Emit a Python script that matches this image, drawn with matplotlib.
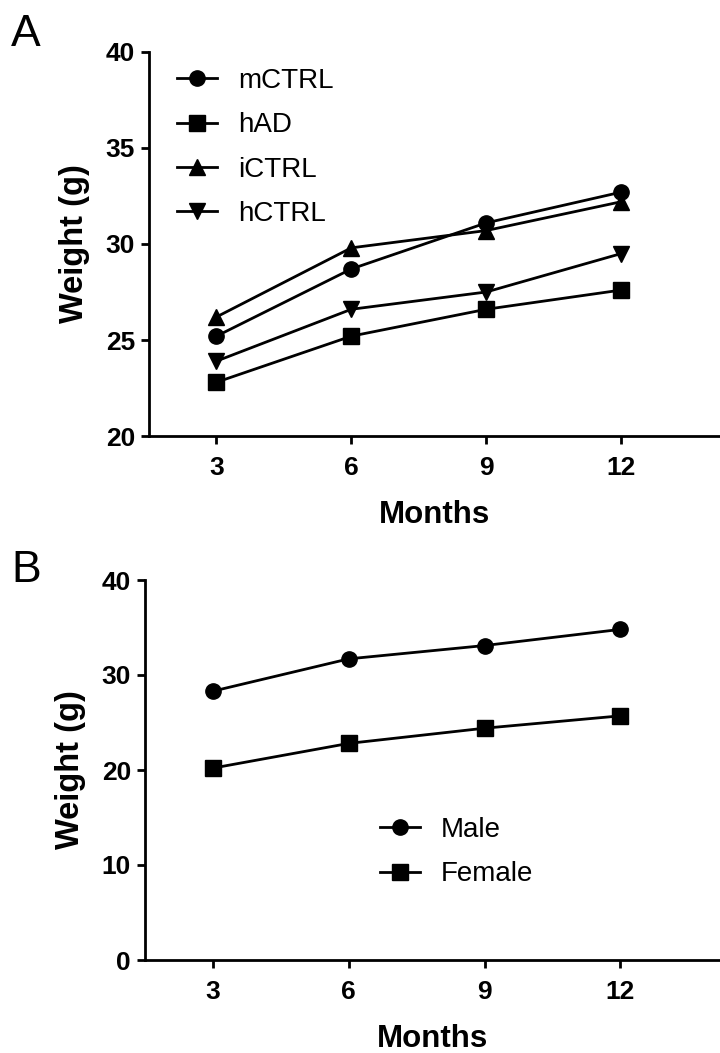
import numpy as np
import matplotlib.pyplot as plt

plt.rcParams['font.family'] = ['Liberation Sans', 'DejaVu Sans']

months = [3, 6, 9, 12]
mctrl = [25.2, 28.7, 31.1, 32.7]
had = [22.8, 25.2, 26.6, 27.6]
ictrl = [26.2, 29.8, 30.7, 32.2]
hctrl = [23.9, 26.6, 27.5, 29.5]
male = [28.3, 31.7, 33.1, 34.8]
female = [20.2, 22.8, 24.4, 25.7]

def style(ax, yt):
    for s in ['top', 'right']:
        ax.spines[s].set_visible(False)
    for s in ['left', 'bottom']:
        ax.spines[s].set_linewidth(2)
    ax.set_xticks(months)
    ax.set_yticks(yt)
    ax.tick_params(width=2, length=6, labelsize=19, pad=4)
    ax.tick_params(axis='x', pad=8.5)
    for t in ax.get_xticklabels() + ax.get_yticklabels():
        t.set_fontweight('bold')
    ax.set_xlabel('Months', fontsize=22.5, fontweight='bold', labelpad=14)
    ax.set_ylabel('Weight (g)', fontsize=23.5, fontweight='bold', labelpad=11)

def leg(ax, x, y):
    ax.legend(loc='upper left', bbox_to_anchor=(x/720, 1-y/1053),
              bbox_transform=fig.transFigure, frameon=False, fontsize=20,
              handlelength=1.45, handletextpad=0.75, labelspacing=0.66,
              borderpad=0, borderaxespad=0)

fig = plt.figure(figsize=(7.2, 10.53), dpi=100)
kw = dict(color='k', lw=2, ms=11)

ax1 = fig.add_axes([149/720, 1-436/1053, 1-149/720, 384/1053])
ax1.plot(months, mctrl, marker='o', label='mCTRL', **kw)
ax1.plot(months, had, marker='s', label='hAD', **kw)
ax1.plot(months, ictrl, marker='^', label='iCTRL', **kw)
ax1.plot(months, hctrl, marker='v', label='hCTRL', **kw)
ax1.set_xlim(1.5, 14.2)
ax1.set_ylim(20, 40)
style(ax1, [20, 25, 30, 35, 40])
leg(ax1, 177, 68)

ax2 = fig.add_axes([145/720, 1-960/1053, 1-145/720, 380/1053])
ax2.plot(months, male, marker='o', label='Male', **kw)
ax2.plot(months, female, marker='s', label='Female', **kw)
ax2.set_xlim(1.5, 14.2)
ax2.set_ylim(0, 40)
style(ax2, [0, 10, 20, 30, 40])
leg(ax2, 380, 817)

fig.text(11/720, 1-46/1053, 'A', fontsize=32)
fig.text(11/720, 1-582/1053, 'B', fontsize=32)

fig.savefig('out.png', dpi=100)
